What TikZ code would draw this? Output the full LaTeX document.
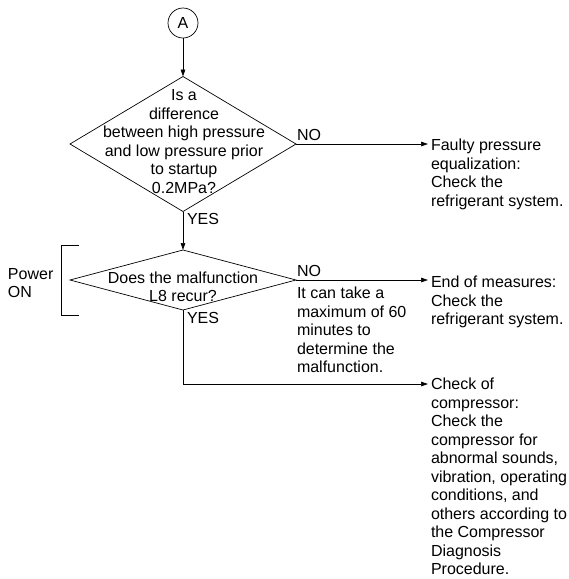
\documentclass[tikz,border=0pt]{standalone}
\usepackage{fontspec}
\setmainfont{Liberation Sans}
\usetikzlibrary{shapes.geometric,arrows.meta}
\begin{document}
\begin{tikzpicture}[x=1pt,y=-1pt,
  every node/.style={inner sep=0pt,outer sep=0pt},
  txt/.style={font=\fontsize{16}{18.5}\selectfont},
  body/.style={txt,align=left,anchor=north west},
  dia/.style={diamond,draw,line width=0.7pt,inner sep=0pt,minimum width=226pt},
  ln/.style={line width=0.7pt},
  arr/.style={ln,-{Triangle[length=7pt,width=4.5pt]}}]
\useasboundingbox (0,0) rectangle (569,579);
% connector A
\node[circle,draw,line width=0.7pt,minimum size=30pt,txt] (A) at (183,23) {A};
% decision 1
\node[dia,minimum height=135pt] (d1) at (183,144) {};
\node[txt,align=center,anchor=north] (d1t) at (184,89.5) {Is a\\difference\\between high pressure\\and low pressure prior\\to startup\\0.2MPa?};
% decision 2
\node[dia,minimum height=60pt] (d2) at (183,280) {};
\node[txt,align=center,anchor=north] (d2t) at (183,271.5) {Does the malfunction\\L8 recur?};
% result texts
\node[body] (f1) at (431,139) {Faulty pressure\\equalization:\\Check the\\refrigerant system.};
\node[body] (f2) at (431,276) {End of measures:\\Check the\\refrigerant system.};
\node[body] (f3) at (431,378) {Check of\\compressor:\\Check the\\compressor for\\abnormal sounds,\\vibration, operating\\conditions, and\\others according to\\the Compressor\\Diagnosis\\Procedure.};
\node[body] (note) at (297,287) {It can take a\\maximum of 60\\minutes to\\determine the\\malfunction.};
\node[body] (pw) at (8,268) {Power\\ON};
% labels
\node[txt,anchor=base west] (no1) at (297,140) {NO};
\node[txt,anchor=base west] (yes1) at (187,224.5) {YES};
\node[txt,anchor=base west] (no2) at (297,276) {NO};
\node[txt,anchor=base west] (yes2) at (187,323) {YES};
% connectors
\draw[arr] (A) -- (d1.north);
\draw[arr] (d1.south) -- (d2.north);
\draw[arr] (d1.east) -- ([xshift=-3pt]d1.east -| f1.north west);
\draw[arr] (d2.east) -- ([xshift=-3pt]d2.east -| f2.north west);
\draw[arr] (d2.south) |- ([xshift=-3pt,yshift=-6pt]f3.north west);
% bracket
\draw[ln] (79,245) -- (61,245) -- (61,315) -- (79,315);
\end{tikzpicture}
\end{document}
